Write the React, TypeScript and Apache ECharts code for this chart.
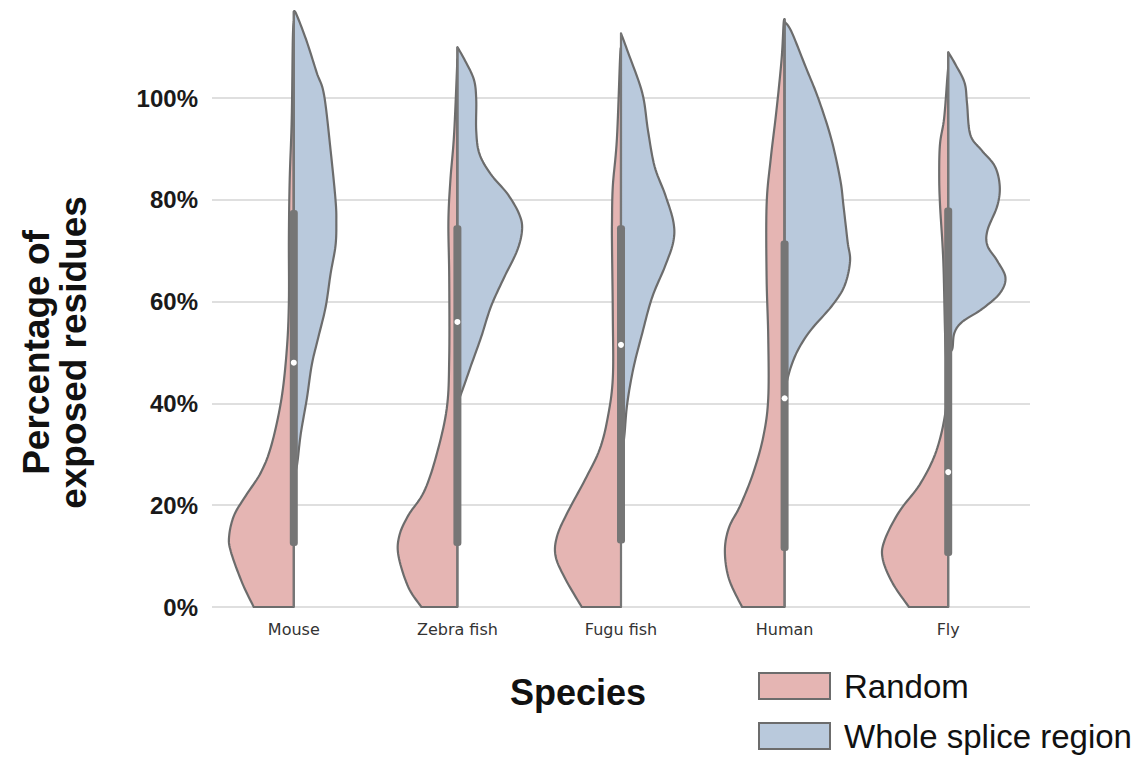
import React, { useEffect, useRef } from "react";
import * as echarts from "echarts";

// ---------- data ----------
const species = ["Mouse", "Zebra fish", "Fugu fish", "Human", "Fly"];
const yTicks = [0, 20, 40, 60, 80, 100];
const seriesNames = ["Random", "Whole splice region"];

// Density profiles: [percentage value, half-width density (fraction of half category band)]
const mouseRandom = [[0, 0.49], [4.7, 0.63], [10.9, 0.77], [14, 0.79], [18, 0.73], [21.8, 0.59], [26.5, 0.4], [32, 0.27], [41, 0.15], [50.7, 0.085], [60, 0.06], [72.5, 0.06], [84, 0.05], [96, 0.025], [111.5, 0.012], [115, 0]];
const mouseSplice = [[25.5, 0], [28, 0.04], [34, 0.085], [41, 0.16], [47.6, 0.22], [53, 0.3], [59, 0.39], [65.5, 0.45], [71, 0.51], [75.7, 0.52], [80, 0.51], [89.7, 0.45], [100.6, 0.37], [105, 0.28], [111.5, 0.15], [116.5, 0.03], [117, 0]];
const zebraRandom = [[0, 0.44], [3.9, 0.6], [10, 0.72], [14, 0.71], [18, 0.6], [22.6, 0.41], [29.6, 0.26], [39, 0.13], [49, 0.1], [64.7, 0.1], [75.7, 0.11], [84, 0.085], [93, 0.04], [107.6, 0]];
const zebraSplice = [[40, 0], [43, 0.07], [47.6, 0.17], [53, 0.29], [59, 0.41], [64.7, 0.57], [70, 0.73], [74, 0.79], [77, 0.76], [81, 0.62], [85, 0.41], [89, 0.27], [93.6, 0.23], [99.8, 0.23], [103.7, 0.2], [107.6, 0.085], [110, 0]];
const fuguRandom = [[0, 0.48], [5.5, 0.68], [10, 0.8], [14, 0.78], [18.7, 0.65], [25, 0.44], [31, 0.26], [37.4, 0.16], [45, 0.1], [57, 0.1], [71, 0.11], [75.7, 0.11], [82.7, 0.1], [92, 0.05], [107.6, 0.012], [110, 0]];
const fuguSplice = [[29, 0], [33.5, 0.04], [39.8, 0.075], [46.8, 0.15], [53.8, 0.26], [60.8, 0.38], [67, 0.54], [71.8, 0.64], [75.7, 0.64], [81, 0.54], [86.6, 0.41], [93.6, 0.33], [101, 0.26], [109, 0.085], [112.7, 0]];
const humanRandom = [[0, 0.52], [5.5, 0.68], [11, 0.73], [15.6, 0.68], [20, 0.54], [26.5, 0.38], [33.5, 0.26], [41, 0.2], [53, 0.2], [64.7, 0.22], [79, 0.22], [88, 0.17], [97.5, 0.1], [107.6, 0.037], [114.6, 0.012], [115.5, 0]];
const humanSplice = [[42.5, 0], [46.8, 0.07], [50.7, 0.17], [54.6, 0.33], [59, 0.57], [63, 0.73], [67.9, 0.8], [71.8, 0.77], [78.8, 0.72], [84, 0.68], [92, 0.57], [100, 0.41], [106, 0.26], [113, 0.085], [115, 0]];
const flyRandom = [[0, 0.48], [4.7, 0.68], [9.4, 0.8], [13, 0.78], [18.7, 0.6], [24, 0.35], [30, 0.16], [36.7, 0.05], [43, 0.012], [53, 0.037], [68, 0.06], [79, 0.1], [85, 0.11], [91, 0.1], [96, 0.05], [103.7, 0.012], [106, 0]];
const flySplice = [[50, 0], [50.7, 0.05], [53.8, 0.075], [56, 0.17], [58.5, 0.41], [61.6, 0.63], [64.7, 0.7], [68, 0.6], [71, 0.48], [74, 0.48], [78.8, 0.6], [82.7, 0.63], [86.6, 0.57], [89.7, 0.41], [92.8, 0.27], [99, 0.23], [103, 0.2], [106.7, 0.085], [109, 0]];

const randomProfiles = [mouseRandom, zebraRandom, fuguRandom, humanRandom, flyRandom];
const spliceProfiles = [mouseSplice, zebraSplice, fuguSplice, humanSplice, flySplice];

// Box stats per species: min, q1, median, q3, max
const boxMin = [0, 0, 0, 0, 0];
const boxQ1 = [12, 12, 12.5, 11, 10];
const boxMedian = [48, 56, 51.5, 41, 26.5];
const boxQ3 = [78, 75, 75, 72, 78.5];
const boxMax = [117, 110, 112.7, 115.5, 109];

// ---------- styling ----------
const PINK = "#e5b5b3";
const BLUE = "#b9c9dc";
const EDGE = "#6c6c6c";
const BOXC = "#767676";
const FONT = "'Liberation Sans', Arial, Helvetica, sans-serif";

function catmull(pts: number[][], seg = 10): number[][] {
  const out: number[][] = [];
  const n = pts.length;
  for (let i = 0; i < n - 1; i++) {
    const p0 = pts[Math.max(0, i - 1)], p1 = pts[i], p2 = pts[i + 1], p3 = pts[Math.min(n - 1, i + 2)];
    for (let k = 0; k < seg; k++) {
      const t = k / seg, t2 = t * t, t3 = t2 * t;
      const f = (a: number, b: number, c: number, d: number) =>
        0.5 * (2 * b + (-a + c) * t + (2 * a - 5 * b + 4 * c - d) * t2 + (-a + 3 * b - 3 * c + d) * t3);
      out.push([f(p0[0], p1[0], p2[0], p3[0]), f(p0[1], p1[1], p2[1], p3[1])]);
    }
  }
  out.push(pts[n - 1]);
  return out;
}

function halfViolin(profiles: number[][][], side: number, fill: string) {
  return (params: any, api: any) => {
    const cat = api.value(0);
    const prof = profiles[params.dataIndex];
    const center = api.coord([cat, 0])[0];
    const hb = api.size([1, 0])[0] / 2;
    const raw = prof.map(([v, d]) => [center + side * d * hb, api.coord([cat, v])[1]]);
    const smooth = catmull(raw).map(([x, y]) => [side < 0 ? Math.min(x, center) : Math.max(x, center), y]);
    const yStart = api.coord([cat, prof[0][0]])[1];
    const yEnd = api.coord([cat, prof[prof.length - 1][0]])[1];
    const points = [[center, yStart], ...smooth, [center, yEnd]];
    return {
      type: "polygon",
      shape: { points },
      style: { fill, stroke: EDGE, lineWidth: 2.2, lineJoin: "round" },
    };
  };
}

function renderBox(params: any, api: any) {
  const cat = api.value(0);
  const x = api.coord([cat, 0])[0];
  const yMin = api.coord([cat, api.value(1)])[1];
  const yQ1 = api.coord([cat, api.value(2)])[1];
  const yMed = api.coord([cat, api.value(3)])[1];
  const yQ3 = api.coord([cat, api.value(4)])[1];
  const yMax = api.coord([cat, api.value(5)])[1];
  const w = 8;
  return {
    type: "group",
    children: [
      { type: "line", shape: { x1: x, y1: yMin, x2: x, y2: yMax }, style: { stroke: BOXC, lineWidth: 2 } },
      { type: "rect", shape: { x: x - w / 2, y: yQ3, width: w, height: yQ1 - yQ3, r: 3 }, style: { fill: BOXC } },
      { type: "circle", shape: { cx: x, cy: yMed, r: 3 }, style: { fill: "#ffffff" } },
    ],
  };
}

export default function App() {
  const ref = useRef<HTMLDivElement>(null);
  useEffect(() => {
    if (!ref.current) return;
    const chart = echarts.init(ref.current, null, { renderer: "svg" });
    const catData = species.map((_, i) => [i]);
    const boxData = species.map((_, i) => [i, boxMin[i], boxQ1[i], boxMedian[i], boxQ3[i], boxMax[i]]);
    chart.setOption({
      animation: false,
      backgroundColor: "#ffffff",
      textStyle: { fontFamily: FONT },
      grid: { left: 212, right: 111, top: 98, bottom: 152, containLabel: false },
      xAxis: {
        type: "category",
        data: species,
        axisLine: { show: false },
        axisTick: { show: false },
        splitLine: { show: false },
        axisLabel: { fontFamily: "'DejaVu Sans', sans-serif", fontSize: 16, color: "#333333", margin: 14 },
      },
      yAxis: {
        type: "value",
        min: 0,
        max: 100,
        interval: 20,
        axisLine: { show: false },
        axisTick: { show: false },
        splitLine: { lineStyle: { color: "#d4d4d4", width: 1.5 } },
        axisLabel: {
          formatter: (v: number) => (yTicks.includes(v) ? `${v}%` : ""),
          fontSize: 24,
          fontWeight: "bold",
          color: "#1a1a1a",
          margin: 14,
          fontFamily: FONT,
        },
        name: "Percentage of\nexposed residues",
        nameLocation: "middle",
        nameRotate: 90,
        nameGap: 120,
        nameTextStyle: { fontSize: 37, fontWeight: "bold", color: "#111111", lineHeight: 37, fontFamily: FONT },
      },
      legend: {
        orient: "vertical",
        left: 758,
        top: 668,
        padding: 0,
        itemWidth: 71,
        itemHeight: 26,
        itemGap: 14,
        icon: "rect",
        textStyle: { fontSize: 33, lineHeight: 36, color: "#111111", fontFamily: FONT, padding: [0, 0, 0, 9] },
        data: [
          { name: seriesNames[0], itemStyle: { color: PINK, borderColor: EDGE, borderWidth: 2 } },
          { name: seriesNames[1], itemStyle: { color: BLUE, borderColor: EDGE, borderWidth: 2 } },
        ],
      },
      graphic: [
        {
          type: "text",
          x: 578,
          y: 692,
          style: {
            text: "Species",
            fontSize: 36,
            fontWeight: "bold",
            fill: "#111111",
            fontFamily: FONT,
            textAlign: "center",
            textVerticalAlign: "middle",
          },
        },
      ],
      series: [
        {
          name: seriesNames[0],
          type: "custom",
          data: catData,
          encode: { x: 0 },
          renderItem: halfViolin(randomProfiles, -1, PINK),
          itemStyle: { color: PINK, borderColor: EDGE },
          clip: false,
          z: 2,
        },
        {
          name: seriesNames[1],
          type: "custom",
          data: catData,
          encode: { x: 0 },
          renderItem: halfViolin(spliceProfiles, 1, BLUE),
          itemStyle: { color: BLUE, borderColor: EDGE },
          clip: false,
          z: 2,
        },
        {
          name: "box",
          type: "custom",
          data: boxData,
          encode: { x: 0, y: [1, 2, 3, 4, 5] },
          renderItem: renderBox,
          clip: false,
          z: 3,
        },
      ],
    });
    return () => chart.dispose();
  }, []);
  return <div ref={ref} style={{ position: "fixed", left: 0, top: 0, width: 1141, height: 759 }} />;
}
